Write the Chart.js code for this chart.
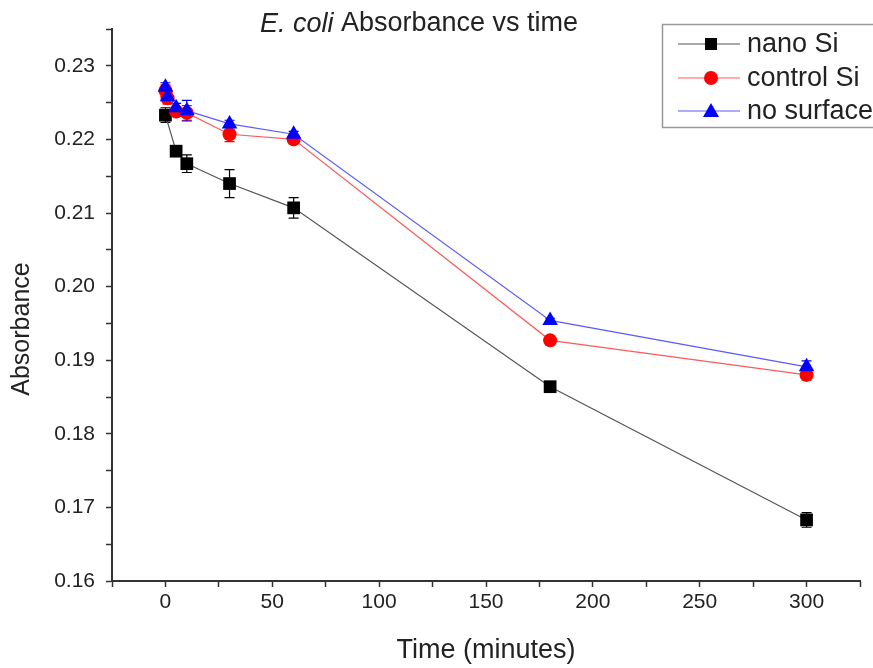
<!DOCTYPE html>
<html>
  <head>
    <meta charset="utf-8" />
    <script src="https://cdn.jsdelivr.net/npm/chart.js"></script>
    <style>
      body { margin: 0; background: #fff; }
    </style>
  </head>
  <body>
    <canvas id="absChart" width="873" height="668"></canvas>
    <script>
      // times in minutes
      const timesNano = [0, 5, 10, 30, 60, 180, 300];
      const timesOther = [0, 1, 5, 10, 30, 60, 180, 300];

      const nanoSi = [0.2233, 0.2184, 0.2167, 0.2140, 0.2107, 0.1864, 0.1683];
      const nanoSiErr = [0.0010, 0.0006, 0.0012, 0.0019, 0.0014, 0.0004, 0.0010];

      const controlSi = [0.2266, 0.2256, 0.2238, 0.2236, 0.2207, 0.2200, 0.1927, 0.1880];
      const controlSiErr = [0.0008, 0.0008, 0.0006, 0.0010, 0.0010, 0.0005, 0.0003, 0.0007];

      const noSurface = [0.2271, 0.2258, 0.2243, 0.2239, 0.2221, 0.2207, 0.1954, 0.1891];
      const noSurfaceErr = [0.0006, 0.0008, 0.0006, 0.0014, 0.0005, 0.0004, 0.0003, 0.0008];

      const xTicksMajor = 50;
      const font = "'Liberation Sans', Arial, sans-serif";

      const toPoints = (xs, ys) => xs.map((x, i) => ({ x, y: ys[i] }));

      const errorBars = {
        id: "errorBars",
        beforeDatasetsDraw(chart) {
          const { ctx } = chart;
          const y = chart.scales.y;
          chart.data.datasets.forEach((ds, di) => {
            const meta = chart.getDatasetMeta(di);
            ctx.save();
            ctx.strokeStyle = ds.errColor;
            ctx.lineWidth = 1.2;
            meta.data.forEach((pt, i) => {
              const v = ds.data[i].y;
              const e = ds.err[i];
              const top = y.getPixelForValue(v + e);
              const bot = y.getPixelForValue(v - e);
              ctx.beginPath();
              ctx.moveTo(pt.x, top);
              ctx.lineTo(pt.x, bot);
              ctx.moveTo(pt.x - 5, top);
              ctx.lineTo(pt.x + 5, top);
              ctx.moveTo(pt.x - 5, bot);
              ctx.lineTo(pt.x + 5, bot);
              ctx.stroke();
            });
            ctx.restore();
          });
        },
      };

      const titleAndLegend = {
        id: "titleAndLegend",
        afterDraw(chart) {
          const { ctx } = chart;
          ctx.save();
          // title with italic species name
          ctx.fillStyle = "#222";
          ctx.textBaseline = "middle";
          const italic = "italic 27px " + font;
          const normal = "27px " + font;
          ctx.font = italic;
          const w1 = ctx.measureText("E. coli").width;
          ctx.font = normal;
          const w2 = ctx.measureText(" Absorbance vs time").width;
          let x = 419 - (w1 + w2) / 2;
          ctx.font = italic;
          ctx.fillText("E. coli", x, 24);
          ctx.font = normal;
          ctx.fillText(" Absorbance vs time", x + w1, 24);

          // y axis title
          ctx.save();
          ctx.translate(22, 329);
          ctx.rotate(-Math.PI / 2);
          ctx.textAlign = "center";
          ctx.font = "25px " + font;
          ctx.fillText("Absorbance", 0, 0);
          ctx.restore();

          // legend box
          ctx.fillStyle = "#fff";
          ctx.fillRect(662, 24, 240, 103);
          ctx.strokeStyle = "#999";
          ctx.lineWidth = 1.5;
          ctx.strokeRect(662.5, 24.5, 240, 103);

          const rows = [44, 78, 111];
          chart.data.datasets.forEach((ds, r) => {
            const cy = rows[r];
            ctx.strokeStyle = ds.borderColor;
            ctx.lineWidth = 1.2;
            ctx.beginPath();
            ctx.moveTo(678, cy);
            ctx.lineTo(740, cy);
            ctx.stroke();
            ctx.fillStyle = ds.pointBackgroundColor;
            ctx.beginPath();
            if (ds.pointStyle === "rect") {
              ctx.rect(705, cy - 6, 12, 12);
            } else if (ds.pointStyle === "circle") {
              ctx.arc(711, cy, 7, 0, Math.PI * 2);
            } else {
              ctx.moveTo(711, cy - 8);
              ctx.lineTo(719, cy + 6);
              ctx.lineTo(703, cy + 6);
              ctx.closePath();
            }
            ctx.fill();
            ctx.fillStyle = "#222";
            ctx.font = "27px " + font;
            ctx.textBaseline = "middle";
            ctx.fillText(ds.label, 747, cy + 1);
          });
          ctx.restore();
        },
      };

      new Chart(document.getElementById("absChart"), {
        type: "line",
        data: {
          datasets: [
            {
              label: "nano Si",
              data: toPoints(timesNano, nanoSi),
              err: nanoSiErr,
              errColor: "#000",
              borderColor: "#555",
              borderWidth: 1.2,
              pointStyle: "rect",
              pointRadius: 9,
              pointBackgroundColor: "#000",
              pointBorderColor: "#000",
              pointBorderWidth: 0,
              order: 3,
            },
            {
              label: "control Si",
              data: toPoints(timesOther, controlSi),
              err: controlSiErr,
              errColor: "#f00",
              borderColor: "#ff5a5a",
              borderWidth: 1.2,
              pointStyle: "circle",
              pointRadius: 7,
              pointBackgroundColor: "#f00",
              pointBorderColor: "#f00",
              pointBorderWidth: 0,
              order: 2,
            },
            {
              label: "no surface",
              data: toPoints(timesOther, noSurface),
              err: noSurfaceErr,
              errColor: "#00f",
              borderColor: "#5a5aff",
              borderWidth: 1.2,
              pointStyle: "triangle",
              pointRadius: 9,
              pointBackgroundColor: "#00f",
              pointBorderColor: "#00f",
              pointBorderWidth: 0,
              order: 1,
            },
          ],
        },
        options: {
          responsive: false,
          animation: false,
          layout: { padding: { top: 29, right: 13, left: 0, bottom: 0 } },
          plugins: {
            legend: { display: false },
            tooltip: { enabled: false },
          },
          scales: {
            x: {
              type: "linear",
              min: -25,
              max: 325,
              afterFit: (s) => { s.height = 87; },
              border: { color: "#333", width: 2 },
              grid: { drawOnChartArea: false, drawTicks: true, tickLength: 6, tickColor: "#333", tickWidth: 1.5 },
              ticks: {
                stepSize: 25,
                autoSkip: false,
                maxRotation: 0,
                padding: 3,
                color: "#222",
                font: { family: font, size: 21 },
                callback: (v) => (v % xTicksMajor === 0 ? String(v) : ""),
              },
              title: {
                display: true,
                text: "Time (minutes)",
                color: "#222",
                font: { family: font, size: 27 },
                padding: { top: 0, bottom: 1 },
              },
            },
            y: {
              min: 0.16,
              max: 0.235,
              afterFit: (s) => { s.width = 112; },
              border: { color: "#333", width: 2 },
              grid: { drawOnChartArea: false, drawTicks: true, tickLength: 6, tickColor: "#333", tickWidth: 1.5 },
              ticks: {
                stepSize: 0.005,
                autoSkip: false,
                padding: 11,
                color: "#222",
                font: { family: font, size: 21 },
                callback: (v) => {
                  const h = v * 100;
                  return Math.abs(h - Math.round(h)) < 1e-6 ? v.toFixed(2) : "";
                },
              },
            },
          },
        },
        plugins: [errorBars, titleAndLegend],
      });
    </script>
  </body>
</html>
